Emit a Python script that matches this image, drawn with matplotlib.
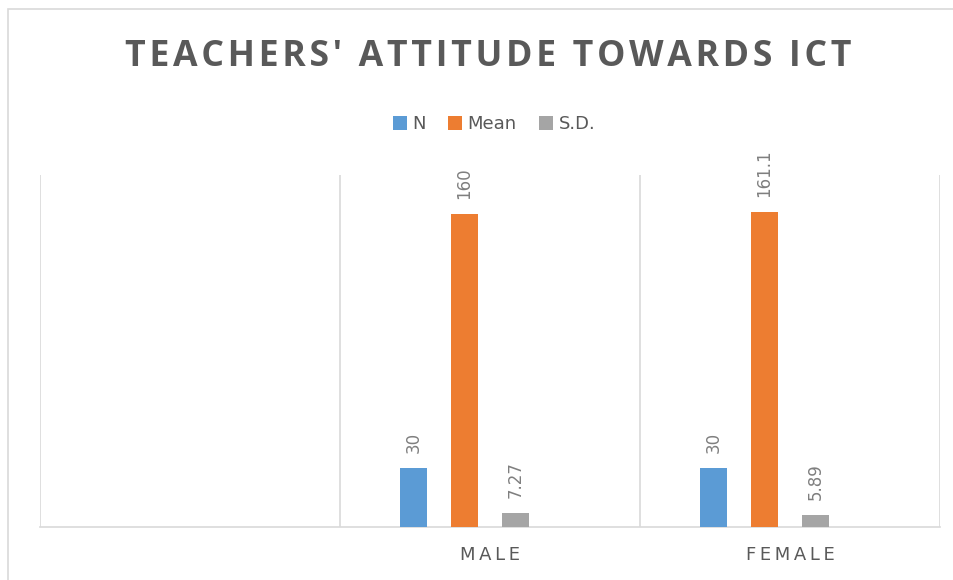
import numpy as np
import matplotlib.pyplot as plt
from matplotlib.patches import Rectangle

# data (first category is an empty slot)
categories = ['', 'MALE', 'FEMALE']
series_names = ['N', 'Mean', 'S.D.']
n_vals = [np.nan, 30, 30]
mean_vals = [np.nan, 160, 161.1]
sd_vals = [np.nan, 7.27, 5.89]
label_text = {'N': ['', '30', '30'],
              'Mean': ['', '160', '161.1'],
              'S.D.': ['', '7.27', '5.89']}
colors = ['#5B9BD5', '#ED7D31', '#A5A5A5']

W, H = 954, 580
fig = plt.figure(figsize=(W / 100, H / 100), dpi=100)
fig.patch.set_facecolor('white')

# chart border (light grey, runs off right and bottom)
fig.patches.append(Rectangle((8 / W, -0.05), 1.1, 1 - 9 / H + 0.05,
                             transform=fig.transFigure, fill=False,
                             edgecolor='#D9D9D9', linewidth=1.2))

ax = fig.add_axes([40 / W, (H - 527) / H, 900 / W, 352 / H])
x = np.arange(len(categories)) + 0.5
step = 0.17
width = 0.09
offsets = np.array([-1.5, -0.5, 0.5]) * step

for vals, name, col, off in zip([n_vals, mean_vals, sd_vals], series_names, colors, offsets):
    ax.bar(x + off, vals, width=width, color=col, label=name, zorder=3)
    for xi, v, t in zip(x + off, vals, label_text[name]):
        if t:
            ax.annotate(t, (xi, v), xytext=(0, 11), textcoords='offset points',
                        rotation=90, ha='center', va='bottom', fontsize=12,
                        color='#7F7F7F')

ax.set_xlim(0, 3)
ax.set_ylim(0, 180)
for b in range(4):
    ax.axvline(b, color='#D9D9D9', linewidth=1.2, zorder=1)
for s in ['top', 'left', 'right']:
    ax.spines[s].set_visible(False)
ax.spines['bottom'].set_color('#D9D9D9')
ax.spines['bottom'].set_linewidth(1.2)
ax.set_yticks([])
ax.set_xticks(x)
ax.set_xticklabels(['\u2009'.join(c) for c in categories], fontsize=13,
                   color='#595959', family=['DejaVu Sans'])
ax.tick_params(axis='x', length=0, pad=14)

fig.text(488 / W, 1 - 57 / H, '\u200a'.join("TEACHERS' ATTITUDE TOWARDS ICT"),
         ha='center', va='center', fontsize=25.7, fontweight='bold',
         color='#595959', family=['Open Sans', 'DejaVu Sans'])

fig.legend(loc='center', bbox_to_anchor=(494 / W, 1 - 124 / H), ncol=3,
           frameon=False, fontsize=13, handlelength=0.8, handleheight=0.8,
           handletextpad=0.3, columnspacing=1.2, labelcolor='#595959')

fig.savefig('out.png', dpi=100)
